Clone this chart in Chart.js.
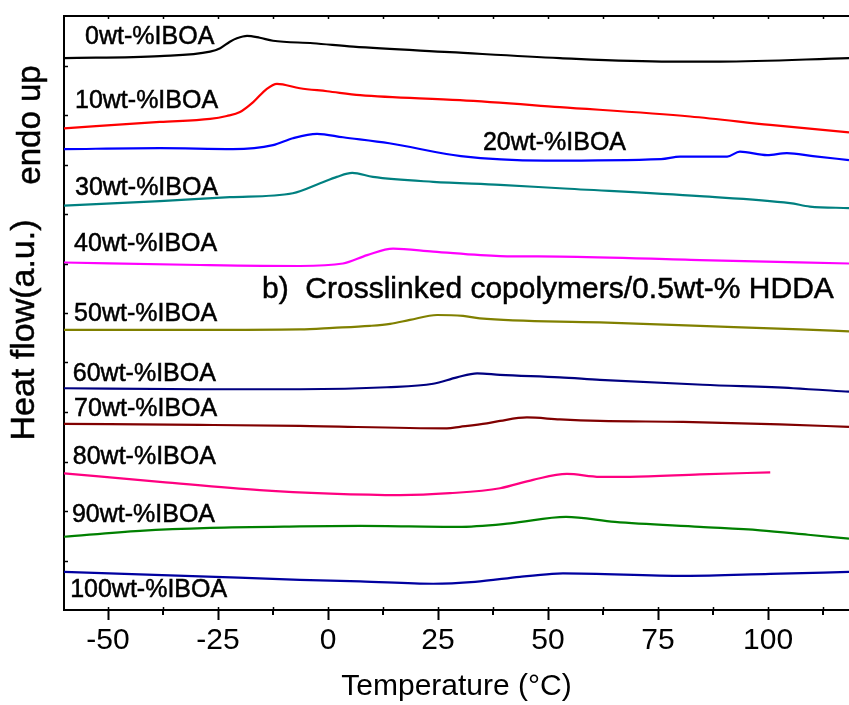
<!DOCTYPE html>
<html><head><meta charset="utf-8">
<script src="https://cdn.jsdelivr.net/npm/chart.js@4.4.0/dist/chart.umd.min.js"></script>
<style>html,body{margin:0;padding:0;background:#fff;} #wrap{width:849px;height:705px;position:relative;}</style>
</head><body><div id="wrap"><canvas id="c"></canvas></div>
<script>
// ---- data (temperature in °C, heat flow in arbitrary stacked units) ----
const seriesNames = ['0wt-%IBOA','10wt-%IBOA','20wt-%IBOA','30wt-%IBOA','40wt-%IBOA','50wt-%IBOA','60wt-%IBOA','70wt-%IBOA','80wt-%IBOA','90wt-%IBOA','100wt-%IBOA'];
const xTickValues = [-50, -25, 0, 25, 50, 75, 100];

const temp0 = [-60, -38.2, -26.8, -24.5, -22.3, -20.7, -18.4, -15.5, -12.5, -3.4, 5.7, 27.7, 52.7, 77.7, 89.1, 118.4];
const heat0 = [11.15, 11.19, 11.28, 11.35, 11.48, 11.55, 11.60, 11.56, 11.50, 11.45, 11.38, 11.27, 11.15, 11.08, 11.08, 11.15];

const temp10 = [-60, -38.2, -26.8, -23.0, -20.0, -17.0, -13.9, -11.6, -6.4, -0.2, 7.3, 30.0, 52.7, 82.3, 100.5, 118.4];
const heat10 = [9.73, 9.86, 9.92, 9.98, 10.06, 10.26, 10.53, 10.63, 10.54, 10.48, 10.40, 10.30, 10.16, 9.97, 9.80, 9.65];

const temp20 = [-60, -38.2, -21.6, -12.5, -8.0, -2.5, 3.4, 13.9, 30.2, 49.3, 75.7, 80.0, 90.7, 93.6, 99.8, 104.3, 110.2, 118.4];
const heat20 = [9.31, 9.33, 9.31, 9.39, 9.53, 9.62, 9.55, 9.43, 9.17, 9.08, 9.11, 9.16, 9.16, 9.26, 9.19, 9.23, 9.17, 9.09];

const temp30 = [-60, -38.2, -22.3, -8.0, -1.8, 2.0, 5.5, 10.2, 23.9, 39.1, 52.7, 84.5, 105.0, 109.5, 118.4];
const heat30 = [8.17, 8.26, 8.34, 8.42, 8.62, 8.75, 8.83, 8.75, 8.65, 8.59, 8.52, 8.36, 8.22, 8.15, 8.12];

const temp40 = [-60, -29.1, -6.4, 3.4, 8.9, 14.8, 23.9, 39.1, 52.7, 84.5, 118.4];
const heat40 = [7.02, 6.97, 6.95, 7.00, 7.17, 7.30, 7.24, 7.15, 7.14, 7.07, 7.00];

const temp50 = [-60, -29.1, -6.4, 1.1, 9.5, 14.1, 18.6, 24.8, 30.7, 34.5, 61.8, 84.5, 107.3, 118.4];
const heat50 = [5.66, 5.66, 5.67, 5.70, 5.74, 5.78, 5.86, 5.96, 5.94, 5.89, 5.81, 5.74, 5.67, 5.63];

const temp60 = [-60, -29.1, -6.4, 13.4, 23.9, 29.3, 33.9, 39.1, 52.7, 61.8, 85.2, 105.7, 118.4];
const heat60 = [4.48, 4.46, 4.46, 4.50, 4.57, 4.70, 4.78, 4.75, 4.70, 4.65, 4.55, 4.48, 4.41];

const temp70 = [-60, -29.1, -6.4, 27.0, 30.0, 36.1, 39.1, 45.2, 52.7, 61.8, 80.7, 102.7, 118.4];
const heat70 = [3.76, 3.74, 3.72, 3.67, 3.70, 3.77, 3.82, 3.89, 3.85, 3.82, 3.80, 3.75, 3.70];

const temp80 = [-60, -38.2, -15.5, 0.5, 16.4, 27.7, 39.1, 46.6, 54.3, 61.8, 68.6, 84.5, 100.5];
const heat80 = [2.76, 2.59, 2.42, 2.35, 2.32, 2.36, 2.46, 2.63, 2.75, 2.69, 2.69, 2.74, 2.78];

const temp90 = [-60, -42.7, -26.8, -6.4, 7.3, 29.5, 41.4, 54.1, 65.2, 84.5, 98.2, 109.1, 118.4];
const heat90 = [1.48, 1.60, 1.66, 1.69, 1.70, 1.68, 1.75, 1.88, 1.78, 1.68, 1.61, 1.52, 1.44];

const temp100 = [-60, -29.1, -6.4, 7.3, 23.9, 33.4, 43.6, 50.9, 53.4, 81.1, 100.5, 118.4];
const heat100 = [0.77, 0.68, 0.61, 0.58, 0.53, 0.57, 0.67, 0.73, 0.74, 0.69, 0.73, 0.77];

// curve label anchors (temperature, heat flow units)
const labelTemp = [-55.2, -57.5, 35.2, -57.5, -57.7, -57.7, -58.0, -57.7, -58.0, -58.2, -58.6];
const labelHeat = [11.58, 10.28, 9.44, 8.53, 7.39, 5.98, 4.77, 4.06, 3.09, 1.92, 0.40];

const temps = [temp0, temp10, temp20, temp30, temp40, temp50, temp60, temp70, temp80, temp90, temp100];
const heats = [heat0, heat10, heat20, heat30, heat40, heat50, heat60, heat70, heat80, heat90, heat100];
const colors = ['#000000','#ff0000','#0000ff','#008080','#ff00ff','#808000','#000080','#800000','#ff0080','#008000','#0000a0'];

const FONT = "'Liberation Sans', Arial, sans-serif";

const datasets = seriesNames.map((name, i) => ({
  label: name,
  data: temps[i].map((t, k) => ({x: t, y: heats[i][k]})),
  borderColor: colors[i],
  borderWidth: 2.2,
  pointRadius: 0,
  fill: false,
  cubicInterpolationMode: 'monotone'
}));

function boldText(c, s, x, y) {
  c.fillText(s, x, y);
  c.lineWidth = 0.5;
  c.strokeStyle = '#000';
  c.strokeText(s, x, y);
}

const decor = {
  id: 'decor',
  beforeDraw(chart) {
    const c = chart.ctx;
    c.save(); c.fillStyle = '#fff'; c.fillRect(0, 0, chart.width, chart.height); c.restore();
  },
  afterDraw(chart) {
    const c = chart.ctx, xs = chart.scales.x, ys = chart.scales.y, a = chart.chartArea;
    c.save();
    c.strokeStyle = '#000';
    // minor ticks on bottom axis (outside)
    c.lineWidth = 2;
    for (let v = -37.5; v < 118; v += 25) {
      const px = Math.round(xs.getPixelForValue(v));
      c.beginPath(); c.moveTo(px, a.bottom); c.lineTo(px, a.bottom + 5); c.stroke();
    }
    // small inner ticks on top and bottom axes
    c.lineWidth = 1.5;
    for (let v = -50; v < 118.4; v += 12.5) {
      const px = Math.round(xs.getPixelForValue(v)) + 0.5;
      c.beginPath(); c.moveTo(px, a.top); c.lineTo(px, a.top + 3); c.stroke();
      c.beginPath(); c.moveTo(px, a.bottom); c.lineTo(px, a.bottom - 3); c.stroke();
    }
    // inner ticks on left axis
    for (let v = 1; v <= 11; v++) {
      const py = Math.round(ys.getPixelForValue(v)) + 0.5;
      c.beginPath(); c.moveTo(a.left, py); c.lineTo(a.left + 4, py); c.stroke();
    }
    // curve labels
    c.fillStyle = '#000';
    c.textAlign = 'left';
    c.textBaseline = 'middle';
    c.font = '25px ' + FONT;
    seriesNames.forEach((n, i) => {
      boldText(c, n, xs.getPixelForValue(labelTemp[i]), ys.getPixelForValue(labelHeat[i]));
    });
    c.font = '30px ' + FONT;
    boldText(c, 'b)  Crosslinked copolymers/0.5wt-% HDDA', 262, 290);
    // y axis titles (rotated)
    c.save();
    c.translate(34, 330); c.rotate(-Math.PI / 2);
    c.textAlign = 'center'; c.textBaseline = 'alphabetic';
    c.font = '34px ' + FONT;
    boldText(c, 'Heat flow(a.u.)', 0, 0);
    c.restore();
    c.save();
    c.translate(40, 125); c.rotate(-Math.PI / 2);
    c.textAlign = 'center'; c.textBaseline = 'alphabetic';
    c.font = '33px ' + FONT;
    boldText(c, 'endo up', 0, 0);
    c.restore();
    c.restore();
  }
};

new Chart(document.getElementById('c'), {
  type: 'line',
  data: { datasets },
  plugins: [decor],
  options: {
    responsive: true,
    maintainAspectRatio: false,
    devicePixelRatio: 1,
    animation: false,
    layout: { padding: 0 },
    plugins: { legend: { display: false }, tooltip: { enabled: false } },
    scales: {
      x: {
        type: 'linear', position: 'bottom', min: -60, max: 118.4,
        afterFit(s) { s.height = 95; },
        afterBuildTicks(s) { s.ticks = xTickValues.map(v => ({value: v})); },
        grid: { display: true, drawOnChartArea: false, drawTicks: true, tickLength: 10, tickWidth: 2, tickColor: '#000' },
        border: { display: true, color: '#000', width: 2 },
        ticks: { autoSkip: false, maxRotation: 0, padding: 3, color: '#000', font: { family: FONT, size: 30 }, callback: v => String(v) },
        title: { display: true, text: 'Temperature (°C)', color: '#000', font: { family: FONT, size: 30 }, padding: 0 }
      },
      x2: {
        type: 'linear', position: 'top', min: -60, max: 118.4,
        afterFit(s) { s.height = 16; },
        grid: { display: false, drawTicks: false },
        border: { display: true, color: '#000', width: 2 },
        ticks: { display: false }
      },
      y: {
        type: 'linear', position: 'left', min: 0, max: 12,
        afterFit(s) { s.width = 64; },
        grid: { display: false, drawTicks: false },
        border: { display: true, color: '#000', width: 2 },
        ticks: { display: false }
      }
    }
  }
});
</script></body></html>
